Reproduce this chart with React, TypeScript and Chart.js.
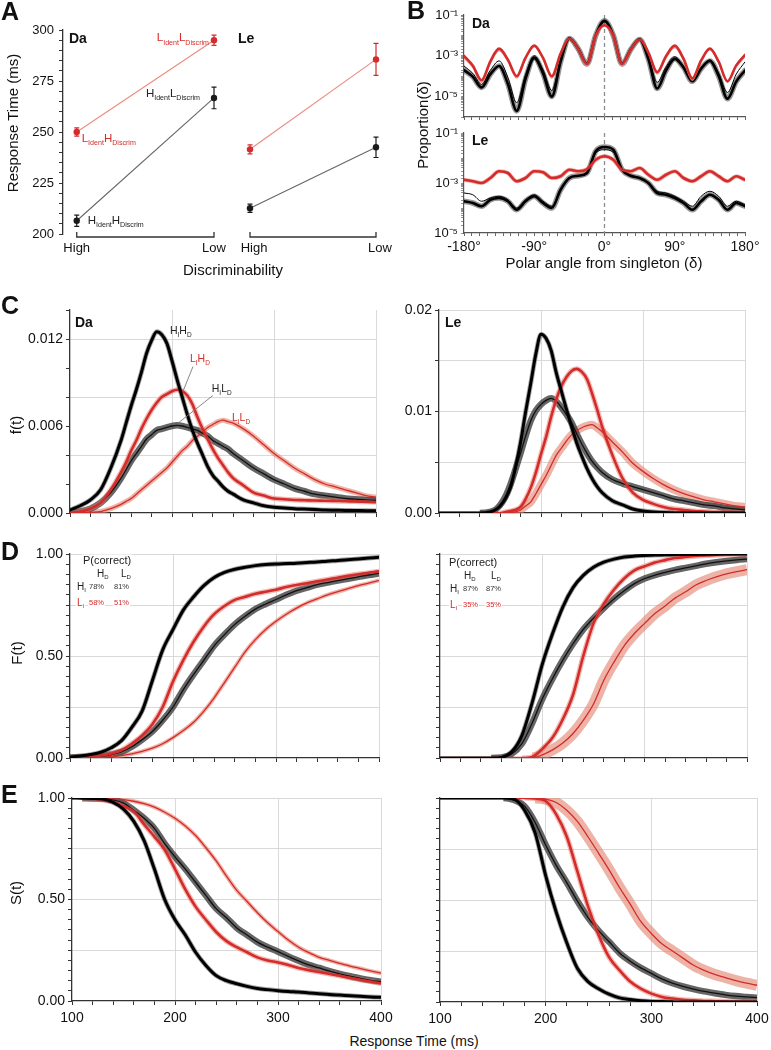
import React, { useEffect, useRef } from "react";
import { Chart, registerables } from "chart.js";

Chart.register(...registerables);

const FONT = '"Liberation Sans", Arial, Helvetica, sans-serif';
Chart.defaults.font.family = FONT;
Chart.defaults.color = "#111";

const RED = "#d42b2b";
const GRID = "#d9d9d9";
const AXIS = "#333";

// ================= DATA =================
// Panel A: mean response time (ms) and error
const A_LEVELS = ["High", "Low"];
const A_DA_LIDENT = [250, 295];
const A_DA_LIDENT_ERR = [2, 2.5];
const A_DA_HIDENT = [206.5, 266.7];
const A_DA_HIDENT_ERR = [2.8, 5.3];
const A_LE_LIDENT = [241.5, 285.6];
const A_LE_LIDENT_ERR = [2.2, 7.8];
const A_LE_HIDENT = [212.6, 242.5];
const A_LE_HIDENT_ERR = [2, 5];

// Panel B: log10 of proportion per polar angle
const B_ANGLES = [-180, -168.75, -157.5, -146.25, -135, -123.75, -112.5, -101.25, -90, -78.75, -67.5, -56.25, -45, -33.75, -22.5, -11.25, 0, 11.25, 22.5, 33.75, 45, 56.25, 67.5, 78.75, 90, 101.25, 112.5, 123.75, 135, 146.25, 157.5, 168.75, 180];
const B_REF_ANGLE = 0;
const B_DA_RED = [-3.0, -3.48, -4.2, -3.27, -2.65, -3.19, -4.0, -3.1, -2.5, -3.1, -4.0, -2.89, -2.15, -2.65, -3.4, -2.0, -1.5, -2.0, -3.4, -2.68, -2.2, -2.84, -3.8, -3.02, -2.5, -3.14, -4.1, -3.23, -2.65, -3.29, -4.25, -3.47, -2.95];
const B_DA_RED_THIN = [-3.1, -3.58, -4.3, -3.37, -2.75, -3.29, -4.1, -3.17, -2.55, -3.17, -4.1, -2.93, -2.15, -2.69, -3.5, -2.1, -1.55, -2.1, -3.5, -2.72, -2.2, -2.88, -3.9, -3.12, -2.6, -3.24, -4.2, -3.3, -2.7, -3.34, -4.3, -3.55, -3.05];
const B_DA_BLACK = [-3.7, -4.02, -4.55, -3.9, -3.5, -4.38, -5.7, -4.14, -3.1, -3.86, -5.0, -3.29, -2.15, -2.65, -3.4, -2.0, -1.28, -2.0, -3.4, -2.68, -2.2, -3.16, -4.6, -3.73, -3.15, -3.57, -4.25, -3.63, -3.25, -3.99, -5.1, -4.26, -3.72];
const B_DA_BLACK_THIN = [-3.5, -3.86, -4.4, -3.71, -3.25, -4.07, -5.3, -3.92, -3.0, -3.68, -4.7, -3.14, -2.1, -2.6, -3.35, -2.05, -1.35, -2.05, -3.35, -2.63, -2.15, -3.01, -4.3, -3.55, -3.05, -3.51, -4.2, -3.6, -3.2, -3.84, -4.8, -3.9, -3.3];
const B_LE_RED = [-2.87, -2.93, -3.0, -2.8, -2.53, -2.6, -2.93, -2.8, -2.53, -2.57, -2.8, -2.73, -2.47, -2.53, -2.45, -2.07, -1.93, -2.07, -2.47, -2.53, -2.4, -2.67, -2.87, -2.67, -2.53, -2.8, -2.93, -2.73, -2.53, -2.73, -2.93, -2.73, -2.87];
const B_LE_BLACK = [-3.73, -3.8, -3.93, -3.67, -3.6, -3.73, -4.07, -3.73, -3.53, -3.8, -4.0, -3.27, -2.8, -2.71, -2.6, -1.73, -1.56, -1.67, -2.47, -2.71, -2.8, -3.0, -3.4, -3.47, -3.6, -3.8, -4.07, -3.73, -3.47, -3.67, -4.07, -3.8, -3.93];
const B_LE_BLACK_THIN = [-3.4, -3.47, -3.73, -3.6, -3.53, -3.67, -4.0, -3.67, -3.47, -3.73, -3.93, -3.24, -2.8, -2.71, -2.6, -1.8, -1.67, -1.77, -2.49, -2.71, -2.8, -3.03, -3.33, -3.4, -3.53, -3.73, -3.93, -3.53, -3.33, -3.53, -3.93, -3.73, -3.87];
const B_Y_LABELS: Record<number, string> = { [-1]: "10\u207B\u00B9", [-3]: "10\u207B\u00B3", [-5]: "10\u207B\u2075" };

// Panel C: density f(t)
const C_TIMES = [100, 110, 120, 130, 140, 150, 155, 160, 165, 170, 175, 180, 185, 190, 195, 200, 205, 210, 215, 220, 225, 230, 235, 240, 245, 250, 255, 260, 270, 280, 290, 300, 310, 320, 330, 340, 350, 360, 370, 380, 390, 400];
const C_DA_HH = [0.0002, 0.0005, 0.0009, 0.0016, 0.0031, 0.005, 0.0062, 0.0074, 0.0085, 0.0097, 0.011, 0.0119, 0.0125, 0.0123, 0.0117, 0.0105, 0.0092, 0.008, 0.0068, 0.0057, 0.0048, 0.004, 0.0032, 0.0026, 0.0022, 0.0018, 0.0015, 0.0013, 0.0009, 0.0007, 0.0005, 0.0004, 0.00035, 0.0003, 0.00027, 0.00024, 0.0002, 0.00019, 0.00018, 0.00017, 0.00016, 0.00015];
const C_DA_LH = [0, 0.0001, 0.0003, 0.0007, 0.0016, 0.0028, 0.0035, 0.0043, 0.005, 0.0058, 0.0065, 0.0071, 0.0076, 0.008, 0.0082, 0.0084, 0.0085, 0.0084, 0.0081, 0.0075, 0.0066, 0.0058, 0.0051, 0.0044, 0.0038, 0.0033, 0.0028, 0.0024, 0.0019, 0.0014, 0.0012, 0.001, 0.00095, 0.0009, 0.00088, 0.00086, 0.00085, 0.00083, 0.00081, 0.0008, 0.00078, 0.00076];
const C_DA_HL = [0, 0.0001, 0.0003, 0.0007, 0.0014, 0.0024, 0.003, 0.0036, 0.0041, 0.0046, 0.0051, 0.0054, 0.0057, 0.0058, 0.0059, 0.006, 0.00605, 0.006, 0.0059, 0.0058, 0.0057, 0.0055, 0.0053, 0.005, 0.0048, 0.0046, 0.0044, 0.0041, 0.0036, 0.0031, 0.0027, 0.0023, 0.002, 0.0017, 0.0015, 0.0013, 0.0012, 0.0011, 0.001, 0.00095, 0.0009, 0.00088];
const C_DA_LL = [0, 0.00002, 0.00005, 0.0001, 0.0003, 0.0006, 0.0008, 0.001, 0.0013, 0.0016, 0.0019, 0.0022, 0.0025, 0.0028, 0.0031, 0.0035, 0.0039, 0.0043, 0.0046, 0.005, 0.0053, 0.0056, 0.0059, 0.0061, 0.0063, 0.0064, 0.0063, 0.0062, 0.0058, 0.0053, 0.0047, 0.0041, 0.0036, 0.0031, 0.0027, 0.0023, 0.002, 0.0018, 0.0016, 0.0014, 0.0012, 0.0011];
const C_LE_HH = [0, 0, 0, 0, 0, 0.0001, 0.0003, 0.0007, 0.0014, 0.0025, 0.0045, 0.007, 0.01, 0.0128, 0.0157, 0.0176, 0.0172, 0.016, 0.0138, 0.012, 0.0102, 0.0085, 0.0069, 0.0056, 0.0044, 0.0034, 0.0026, 0.002, 0.0012, 0.0008, 0.0004, 0.0002, 0.0001, 0.00005, 0.00003, 0.00002, 0.00001, 0, 0, 0, 0, 0];
const C_LE_HL = [0, 0, 0, 0, 0, 0.0001, 0.0003, 0.0008, 0.0016, 0.0028, 0.0043, 0.0059, 0.0076, 0.0091, 0.0101, 0.0107, 0.0111, 0.0113, 0.011, 0.0104, 0.0097, 0.0089, 0.0078, 0.0068, 0.0059, 0.0051, 0.0045, 0.004, 0.0033, 0.0029, 0.0026, 0.0023, 0.002, 0.0017, 0.0014, 0.0012, 0.001, 0.0008, 0.0007, 0.0005, 0.0004, 0.0003];
const C_LE_LH = [0, 0, 0, 0, 0, 0, 0, 0, 0.0001, 0.0002, 0.0003, 0.0006, 0.0014, 0.0025, 0.004, 0.0058, 0.0075, 0.0095, 0.0112, 0.0125, 0.0134, 0.014, 0.0142, 0.0139, 0.0132, 0.0118, 0.0102, 0.0085, 0.0057, 0.0034, 0.002, 0.0013, 0.0009, 0.0006, 0.0004, 0.0003, 0.0002, 0.00015, 0.0001, 0.0001, 0.00008, 0.00006];
const C_LE_LL = [0, 0, 0, 0, 0, 0, 0, 0, 0, 0, 0.0001, 0.0003, 0.0007, 0.0011, 0.0019, 0.0028, 0.0037, 0.0047, 0.0057, 0.0064, 0.0071, 0.0077, 0.0081, 0.0084, 0.0086, 0.0087, 0.0084, 0.008, 0.007, 0.006, 0.0049, 0.0041, 0.0034, 0.0028, 0.0023, 0.0019, 0.0016, 0.0013, 0.0011, 0.0009, 0.0007, 0.0006];

// Panels D and E: F(t) and S(t)
const DE_TIMES = [100, 110, 120, 130, 140, 150, 160, 170, 180, 190, 200, 210, 220, 230, 240, 250, 260, 270, 280, 290, 300, 310, 320, 330, 340, 350, 360, 370, 380, 390, 400];
const D_DA_HH = [0.005, 0.01, 0.017, 0.028, 0.05, 0.085, 0.15, 0.23, 0.38, 0.53, 0.63, 0.725, 0.79, 0.845, 0.885, 0.91, 0.925, 0.935, 0.943, 0.948, 0.951, 0.953, 0.955, 0.958, 0.961, 0.965, 0.968, 0.972, 0.976, 0.98, 0.984];
const D_DA_LH = [0.004, 0.006, 0.008, 0.012, 0.022, 0.038, 0.07, 0.11, 0.165, 0.25, 0.375, 0.48, 0.57, 0.645, 0.705, 0.745, 0.775, 0.79, 0.805, 0.815, 0.825, 0.838, 0.848, 0.857, 0.866, 0.875, 0.884, 0.893, 0.901, 0.908, 0.915];
const D_DA_HL = [0.003, 0.004, 0.006, 0.009, 0.017, 0.03, 0.055, 0.09, 0.13, 0.185, 0.25, 0.335, 0.41, 0.48, 0.55, 0.605, 0.655, 0.695, 0.73, 0.755, 0.777, 0.8, 0.82, 0.835, 0.85, 0.86, 0.87, 0.879, 0.888, 0.897, 0.905];
const D_DA_LL = [0.002, 0.002, 0.003, 0.004, 0.007, 0.012, 0.02, 0.032, 0.048, 0.07, 0.1, 0.135, 0.175, 0.23, 0.295, 0.37, 0.445, 0.52, 0.58, 0.63, 0.67, 0.705, 0.735, 0.76, 0.78, 0.8, 0.815, 0.83, 0.845, 0.857, 0.87];
const D_LE_HH = [0, 0, 0, 0, 0, 0, 0.003, 0.03, 0.11, 0.27, 0.46, 0.61, 0.74, 0.835, 0.895, 0.935, 0.96, 0.975, 0.985, 0.99, 0.993, 0.995, 0.996, 0.997, 0.998, 0.998, 0.999, 0.999, 1, 1, 1];
const D_LE_HL = [0, 0, 0, 0, 0, 0, 0.002, 0.02, 0.07, 0.17, 0.29, 0.39, 0.48, 0.56, 0.63, 0.685, 0.735, 0.78, 0.82, 0.855, 0.88, 0.897, 0.91, 0.922, 0.932, 0.942, 0.952, 0.96, 0.966, 0.971, 0.975];
const D_LE_LH = [0, 0, 0, 0, 0, 0, 0, 0, 0, 0.005, 0.045, 0.1, 0.19, 0.31, 0.5, 0.66, 0.755, 0.825, 0.88, 0.92, 0.94, 0.958, 0.97, 0.98, 0.986, 0.99, 0.993, 0.995, 0.997, 0.998, 0.999];
const D_LE_LL = [0, 0, 0, 0, 0, 0, 0, 0, 0, 0, 0.015, 0.04, 0.073, 0.12, 0.185, 0.265, 0.38, 0.47, 0.55, 0.61, 0.66, 0.708, 0.745, 0.785, 0.815, 0.848, 0.87, 0.888, 0.903, 0.914, 0.923];
const E_DA_HH = [1, 0.999, 0.998, 0.995, 0.978, 0.945, 0.885, 0.79, 0.65, 0.5, 0.4, 0.325, 0.24, 0.175, 0.125, 0.1, 0.085, 0.072, 0.062, 0.056, 0.051, 0.047, 0.044, 0.04, 0.036, 0.032, 0.029, 0.026, 0.023, 0.02, 0.018];
const E_DA_HL = [1, 0.999, 0.998, 0.996, 0.99, 0.975, 0.94, 0.9, 0.85, 0.775, 0.71, 0.65, 0.585, 0.52, 0.455, 0.41, 0.36, 0.325, 0.29, 0.265, 0.243, 0.22, 0.198, 0.178, 0.163, 0.147, 0.134, 0.122, 0.111, 0.102, 0.095];
const E_DA_LH = [1, 0.999, 0.996, 0.99, 0.98, 0.96, 0.934, 0.87, 0.81, 0.745, 0.65, 0.55, 0.465, 0.4, 0.34, 0.295, 0.265, 0.24, 0.215, 0.2, 0.19, 0.177, 0.163, 0.152, 0.143, 0.133, 0.124, 0.115, 0.105, 0.096, 0.087];
const E_DA_LL = [1, 0.999, 0.998, 0.997, 0.996, 0.992, 0.984, 0.972, 0.955, 0.93, 0.9, 0.862, 0.815, 0.755, 0.69, 0.615, 0.545, 0.49, 0.435, 0.385, 0.342, 0.3, 0.265, 0.238, 0.215, 0.2, 0.185, 0.172, 0.16, 0.148, 0.137];
const E_LE_HH = [1, 1, 1, 1, 1, 1, 1, 0.995, 0.94, 0.83, 0.62, 0.44, 0.29, 0.165, 0.1, 0.065, 0.038, 0.02, 0.012, 0.006, 0.003, 0.002, 0.001, 0, 0, 0, 0, 0, 0, 0, 0];
const E_LE_HL = [1, 1, 1, 1, 1, 1, 1, 0.99, 0.96, 0.88, 0.77, 0.67, 0.585, 0.495, 0.415, 0.35, 0.295, 0.24, 0.2, 0.167, 0.14, 0.113, 0.092, 0.076, 0.063, 0.052, 0.043, 0.035, 0.029, 0.025, 0.021];
const E_LE_LH = [1, 1, 1, 1, 1, 1, 1, 1, 1, 0.998, 0.985, 0.92, 0.81, 0.64, 0.47, 0.33, 0.22, 0.155, 0.1, 0.065, 0.041, 0.025, 0.017, 0.011, 0.008, 0.005, 0.004, 0.003, 0.002, 0.002, 0.001];
const E_LE_LL = [1, 1, 1, 1, 1, 1, 1, 1, 1, 1, 0.995, 0.978, 0.94, 0.885, 0.81, 0.73, 0.648, 0.56, 0.48, 0.395, 0.336, 0.285, 0.25, 0.215, 0.18, 0.155, 0.135, 0.12, 0.105, 0.092, 0.082];

const P_CORRECT_DA_H = ["78%", "81%"];
const P_CORRECT_DA_L = ["58%", "51%"];
const P_CORRECT_LE_H = ["87%", "87%"];
const P_CORRECT_LE_L = ["35%", "35%"];

// ================= HELPERS =================
type Box = { l: number; t: number; r: number; b: number };
type Seg = [string, boolean];

const zeroPad = (s: any) => {
  s.paddingLeft = 0;
  s.paddingRight = 0;
  s.paddingTop = 0;
  s.paddingBottom = 0;
};

function frameOptions(canvas: Box, area: Box, yShown: boolean) {
  return {
    animation: false,
    responsive: true,
    maintainAspectRatio: false,
    events: [],
    layout: {
      padding: {
        top: area.t - canvas.t,
        right: canvas.r - area.r,
        left: yShown ? 0 : area.l - canvas.l,
        bottom: 0,
      },
    },
  };
}

const NO_PLUGINS = { legend: { display: false }, tooltip: { enabled: false }, title: { display: false } };

function drawRich(ctx: any, x: number, y: number, segs: Seg[], color: string, size: number, align: string) {
  const main = `${size}px ${FONT}`;
  const sub = `${(size * 0.62).toFixed(1)}px ${FONT}`;
  let w = 0;
  for (const [t, s] of segs) {
    ctx.font = s ? sub : main;
    w += ctx.measureText(t).width;
  }
  let cx = align === "right" ? x - w : x;
  ctx.fillStyle = color;
  ctx.textAlign = "left";
  ctx.textBaseline = "alphabetic";
  for (const [t, s] of segs) {
    ctx.font = s ? sub : main;
    ctx.fillText(t, cx, s ? y + size * 0.3 : y);
    cx += ctx.measureText(t).width;
  }
}

function makeExtras(cfg: any) {
  return {
    id: "extras",
    beforeDatasetsDraw(chart: any) {
      if (typeof cfg.vline === "number") {
        const { ctx, chartArea } = chart;
        const x = chart.scales.x.getPixelForValue(cfg.vline);
        ctx.save();
        ctx.strokeStyle = "#8c8c8c";
        ctx.lineWidth = 1.3;
        ctx.setLineDash([4, 3]);
        ctx.beginPath();
        ctx.moveTo(x, chartArea.top);
        ctx.lineTo(x, chartArea.bottom);
        ctx.stroke();
        ctx.restore();
      }
    },
    afterDatasetsDraw(chart: any) {
      const { ctx, chartArea } = chart;
      const xs = chart.scales.x;
      const ys = chart.scales.y;
      ctx.save();
      chart.data.datasets.forEach((ds: any) => {
        if (!ds.errors) return;
        ds.data.forEach((p: any, i: number) => {
          const e = ds.errors[i];
          const x = xs.getPixelForValue(p.x);
          const y1 = ys.getPixelForValue(p.y - e);
          const y2 = ys.getPixelForValue(p.y + e);
          ctx.strokeStyle = ds.errColor;
          ctx.lineWidth = 1.2;
          ctx.beginPath();
          ctx.moveTo(x, y1);
          ctx.lineTo(x, y2);
          ctx.moveTo(x - 2.5, y1);
          ctx.lineTo(x + 2.5, y1);
          ctx.moveTo(x - 2.5, y2);
          ctx.lineTo(x + 2.5, y2);
          ctx.stroke();
        });
      });
      if (cfg.bracket) {
        const x0 = xs.getPixelForValue(cfg.bracket[0]);
        const x1 = xs.getPixelForValue(cfg.bracket[1]);
        const y = chartArea.bottom + 3;
        ctx.strokeStyle = AXIS;
        ctx.lineWidth = 1.3;
        ctx.beginPath();
        ctx.moveTo(x0, y - 5);
        ctx.lineTo(x0, y);
        ctx.lineTo(x1, y);
        ctx.lineTo(x1, y - 5);
        ctx.stroke();
      }
      (cfg.leaders || []).forEach((l: any) => {
        ctx.strokeStyle = "#7a7a7a";
        ctx.lineWidth = 0.9;
        ctx.beginPath();
        ctx.moveTo(xs.getPixelForValue(l.from[0]), ys.getPixelForValue(l.from[1]));
        ctx.lineTo(xs.getPixelForValue(l.to[0]), ys.getPixelForValue(l.to[1]));
        ctx.stroke();
      });
      (cfg.notes || []).forEach((n: any) => {
        drawRich(
          ctx,
          xs.getPixelForValue(n.x) + (n.dx || 0),
          ys.getPixelForValue(n.y) + (n.dy || 0),
          n.segs,
          n.red ? RED : "#222",
          n.size || 11,
          n.align || "left"
        );
      });
      ctx.restore();
    },
  };
}

const LINE = {
  pointRadius: 0,
  fill: false,
  tension: 0,
  cubicInterpolationMode: "monotone",
  borderCapStyle: "round",
  borderJoinStyle: "round",
};

// ================= PANEL A =================
function aConfig(canvas: Box, area: Box, showY: boolean, red: number[], redErr: number[], black: number[], blackErr: number[], notes: any[], xmin: number, labelOffset: number) {
  const pts = (arr: number[]) => A_LEVELS.map((_, i) => ({ x: i, y: arr[i] }));
  return {
    type: "line",
    data: {
      datasets: [
        { data: pts(red), errors: redErr, errColor: RED, borderColor: "#ee8c82", borderWidth: 1.2, pointRadius: 3.2, pointBackgroundColor: RED, pointBorderWidth: 0, tension: 0, clip: false },
        { data: pts(black), errors: blackErr, errColor: "#1a1a1a", borderColor: "#666", borderWidth: 1.1, pointRadius: 3.2, pointBackgroundColor: "#1a1a1a", pointBorderWidth: 0, tension: 0, clip: false },
      ],
    },
    options: {
      ...frameOptions(canvas, area, showY),
      plugins: NO_PLUGINS,
      scales: {
        x: {
          type: "linear",
          min: xmin,
          max: A_LEVELS.length - 1,
          afterBuildTicks: (s: any) => {
            s.ticks = A_LEVELS.map((_, i) => ({ value: i }));
          },
          afterFit: (s: any) => {
            s.height = canvas.b - area.b;
            zeroPad(s);
          },
          ticks: { autoSkip: false, maxRotation: 0, minRotation: 0, padding: 7, labelOffset, font: { size: 13 }, color: "#111", callback: (v: any) => A_LEVELS[Math.round(v)] ?? "" },
          grid: { display: false, drawTicks: false },
          border: { display: false },
        },
        y: {
          display: showY,
          type: "linear",
          min: 200,
          max: 300,
          afterFit: (s: any) => {
            s.width = area.l - canvas.l;
            zeroPad(s);
          },
          ticks: { stepSize: 5, autoSkip: false, padding: 5, font: { size: 13 }, color: "#111", callback: (v: any) => (Math.round(v) % 25 === 0 ? String(Math.round(v)) : "") },
          grid: { drawOnChartArea: false, tickLength: 4, tickColor: AXIS, tickWidth: 1 },
          border: { display: true, color: AXIS, width: 1.3 },
        },
      },
    },
    plugins: [makeExtras({ bracket: [0, A_LEVELS.length - 1], notes })],
  };
}

const SEG_LL: Seg[] = [["L", false], ["Ident", true], ["L", false], ["Discrim", true]];
const SEG_LH: Seg[] = [["L", false], ["Ident", true], ["H", false], ["Discrim", true]];
const SEG_HL: Seg[] = [["H", false], ["Ident", true], ["L", false], ["Discrim", true]];
const SEG_HH: Seg[] = [["H", false], ["Ident", true], ["H", false], ["Discrim", true]];

const A_DA_NOTES = [
  { x: 1, y: A_DA_LIDENT[1], segs: SEG_LL, red: true, align: "right", dx: -5, dy: 1, size: 11.5 },
  { x: 0, y: A_DA_LIDENT[0], segs: SEG_LH, red: true, align: "left", dx: 5, dy: 10, size: 11.5 },
  { x: 1, y: A_DA_HIDENT[1], segs: SEG_HL, red: false, align: "right", dx: -14, dy: -1, size: 11.5 },
  { x: 0, y: A_DA_HIDENT[0], segs: SEG_HH, red: false, align: "left", dx: 11, dy: 3, size: 11.5 },
];

// ================= PANEL B =================
function bConfig(canvas: Box, area: Box, yMin: number, series: any[], showXLabels: boolean) {
  const datasets: any[] = [];
  series.forEach((s) => {
    const mk = () => B_ANGLES.map((a, i) => ({ x: a, y: Math.pow(10, s.exp[i]) }));
    if (s.band) datasets.push({ ...LINE, data: mk(), borderColor: s.band, borderWidth: s.bw, order: 10 + s.z });
    datasets.push({ ...LINE, data: mk(), borderColor: s.color, borderWidth: s.w, order: s.z });
  });
  return {
    type: "line",
    data: { datasets },
    options: {
      ...frameOptions(canvas, area, true),
      plugins: NO_PLUGINS,
      scales: {
        x: {
          type: "linear",
          min: -180,
          max: 180,
          afterFit: (s: any) => {
            s.height = canvas.b - area.b;
            zeroPad(s);
          },
          ticks: { stepSize: 10, autoSkip: false, maxRotation: 0, minRotation: 0, padding: 3, font: { size: 14 }, color: "#111", callback: (v: any) => (showXLabels && Math.round(v) % 90 === 0 ? `${Math.round(v)}\u00B0` : "") },
          grid: { drawOnChartArea: false, tickLength: 3, tickColor: "#666", tickWidth: 1 },
          border: { display: true, color: "#555", width: 1.2 },
        },
        y: {
          type: "logarithmic",
          min: yMin,
          max: 0.1,
          afterFit: (s: any) => {
            s.width = area.l - canvas.l;
            zeroPad(s);
          },
          ticks: {
            autoSkip: false,
            padding: 3,
            font: { size: 13 },
            color: "#111",
            callback: (v: any) => {
              const e = Math.log10(v);
              const r = Math.round(e);
              if (Math.abs(e - r) > 1e-6) return "";
              return B_Y_LABELS[r] ?? "";
            },
          },
          grid: { drawOnChartArea: false, tickLength: 3, tickColor: "#777", tickWidth: 0.8 },
          border: { display: true, color: "#555", width: 1.2 },
        },
      },
    },
    plugins: [makeExtras({ vline: B_REF_ANGLE })],
  };
}

// ================= PANELS C/D/E =================
const CURVE_STYLE: Record<string, any> = {
  HH: { color: "#000", w: 3, band: "rgba(85,85,85,0.55)", bw: 4.8, z: 0 },
  LH: { color: RED, w: 2.6, band: "rgba(230,118,106,0.5)", bw: 5.2, z: 1 },
  HL: { color: "#111", w: 1.3, band: "rgba(62,62,62,0.8)", bw: 6.5, z: 2 },
  LL: { color: RED, w: 1.3, band: "rgba(226,128,108,0.6)", bw: 5.5, z: 3 },
};

const CLEAR = "rgba(0,0,0,0)";

function curveDatasets(times: number[], curves: any[], flatLo: number, flatHi: number) {
  const out: any[] = [];
  // the confidence band has no width where the curve sits flat on a bound
  const bandSegment = {
    borderColor: (c: any) => {
      const a = c.p0.parsed.y;
      const b = c.p1.parsed.y;
      return (a <= flatLo && b <= flatLo) || (a >= flatHi && b >= flatHi) ? CLEAR : undefined;
    },
  };
  curves.forEach((c) => {
    const s = CURVE_STYLE[c.kind];
    const mk = () => times.map((t, i) => ({ x: t, y: c.data[i] }));
    out.push({ ...LINE, data: mk(), borderColor: s.band, borderWidth: c.bw ?? s.bw, order: 10 + s.z, segment: bandSegment, borderCapStyle: "butt" });
    out.push({ ...LINE, data: mk(), borderColor: s.color, borderWidth: s.w, order: s.z });
  });
  return out;
}

function cdeConfig(canvas: Box, area: Box, times: number[], curves: any[], o: any) {
  return {
    type: "line",
    data: { datasets: curveDatasets(times, curves, o.flatLo, o.flatHi) },
    options: {
      ...frameOptions(canvas, area, true),
      plugins: NO_PLUGINS,
      scales: {
        x: {
          type: "linear",
          min: 100,
          max: 400,
          afterFit: (s: any) => {
            s.height = canvas.b - area.b;
            zeroPad(s);
          },
          ticks: { stepSize: 20, autoSkip: false, maxRotation: 0, minRotation: 0, padding: 5, font: { size: 14 }, color: "#111", callback: (v: any) => (o.showX && Math.round(v) % 100 === 0 ? String(Math.round(v)) : "") },
          grid: {
            color: (c: any) => {
              const v = c.tick?.value;
              return v !== undefined && v > 100 && Math.round(v) % 100 === 0 ? GRID : CLEAR;
            },
            lineWidth: 1,
            tickColor: AXIS,
            tickLength: 4,
            tickWidth: 1,
          },
          border: { display: true, color: AXIS, width: 1.3 },
        },
        y: {
          type: "linear",
          min: 0,
          max: o.yMax,
          afterFit: (s: any) => {
            s.width = area.l - canvas.l;
            zeroPad(s);
          },
          ticks: {
            stepSize: o.yStep,
            autoSkip: false,
            padding: 3,
            font: { size: 14 },
            color: "#111",
            callback: (v: any) => {
              const i = Math.round(v / o.yStep);
              return o.showY && i % o.labelN === 0 ? (i * o.yStep).toFixed(o.digits) : "";
            },
          },
          grid: {
            color: (c: any) => {
              const v = c.tick?.value;
              if (v === undefined) return CLEAR;
              const i = Math.round(v / o.yStep);
              return i > 0 && i % o.gridN === 0 ? GRID : CLEAR;
            },
            lineWidth: 1,
            tickColor: AXIS,
            tickLength: 4,
            tickWidth: 1,
          },
          border: { display: true, color: AXIS, width: 1.3 },
        },
      },
    },
    plugins: [makeExtras({ notes: o.notes || [], leaders: o.leaders || [] })],
  };
}

const SEG_C_HH: Seg[] = [["H", false], ["I", true], ["H", false], ["D", true]];
const SEG_C_LH: Seg[] = [["L", false], ["I", true], ["H", false], ["D", true]];
const SEG_C_HL: Seg[] = [["H", false], ["I", true], ["L", false], ["D", true]];
const SEG_C_LL: Seg[] = [["L", false], ["I", true], ["L", false], ["D", true]];

const C_DA_NOTES = [
  { x: 198, y: 0.01234, segs: SEG_C_HH, red: false, size: 10.5 },
  { x: 217.6, y: 0.01041, segs: SEG_C_LH, red: true, size: 10.5 },
  { x: 239, y: 0.00834, segs: SEG_C_HL, red: false, size: 10.5 },
  { x: 258.8, y: 0.00634, segs: SEG_C_LL, red: true, size: 10.5 },
];
const C_DA_LEADERS = [
  { from: [220.6, 0.0101], to: [210.8, 0.0084] },
  { from: [240, 0.0081], to: [206, 0.0062] },
];

const curvesOf = (hh: number[], lh: number[], hl: number[], ll: number[], llBand: number, hlBand: number) => [
  { kind: "LL", data: ll, bw: llBand },
  { kind: "HL", data: hl, bw: hlBand },
  { kind: "LH", data: lh },
  { kind: "HH", data: hh },
];

const PDF_FLAT = { flatLo: 0.00003, flatHi: 1 };
const CDF_FLAT = { flatLo: 0.0015, flatHi: 0.9985 };

const PANELS: { id: string; canvas: Box; make: () => any }[] = (() => {
  const list: any[] = [];
  const add = (id: string, canvas: Box, make: (c: Box) => any) => list.push({ id, canvas, make: () => make(canvas) });

  add("aDa", { l: 0, t: 22, r: 232, b: 262 }, (c) =>
    aConfig(c, { l: 63, t: 30, r: 214, b: 234 }, true, A_DA_LIDENT, A_DA_LIDENT_ERR, A_DA_HIDENT, A_DA_HIDENT_ERR, A_DA_NOTES, -0.1, 0)
  );
  add("aLe", { l: 222, t: 22, r: 400, b: 262 }, (c) =>
    aConfig(c, { l: 236, t: 30, r: 376, b: 234 }, false, A_LE_LIDENT, A_LE_LIDENT_ERR, A_LE_HIDENT, A_LE_HIDENT_ERR, [], 0, 4)
  );
  add("bDa", { l: 405, t: 3, r: 765, b: 123 }, (c) =>
    bConfig(c, { l: 464, t: 15, r: 745, b: 117 }, 1e-6, [
      { exp: B_DA_BLACK, color: "#000", w: 2.6, band: "rgba(80,80,80,0.6)", bw: 5.5, z: 2 },
      { exp: B_DA_BLACK_THIN, color: "#000", w: 1, z: 3 },
      { exp: B_DA_RED, color: RED, w: 2.6, z: 0 },
      { exp: B_DA_RED_THIN, color: "#ec8a82", w: 1.2, z: 1 },
    ], false)
  );
  add("bLe", { l: 405, t: 123, r: 765, b: 258 }, (c) =>
    bConfig(c, { l: 464, t: 133, r: 745, b: 233 }, 1e-5, [
      { exp: B_LE_BLACK, color: "#000", w: 2.6, band: "rgba(80,80,80,0.6)", bw: 5.5, z: 2 },
      { exp: B_LE_BLACK_THIN, color: "#000", w: 1, z: 3 },
      { exp: B_LE_RED, color: RED, w: 2.6, band: "rgba(232,125,112,0.6)", bw: 4.2, z: 0 },
    ], true)
  );
  add("cDa", { l: 0, t: 300, r: 388, b: 522 }, (c) =>
    cdeConfig(c, { l: 70, t: 310, r: 376, b: 513 }, C_TIMES, curvesOf(C_DA_HH, C_DA_LH, C_DA_HL, C_DA_LL, 5, 6.5), {
      ...PDF_FLAT, yMax: 0.014, yStep: 0.002, labelN: 3, gridN: 2, digits: 3, showY: true, showX: false, notes: C_DA_NOTES, leaders: C_DA_LEADERS,
    })
  );
  add("cLe", { l: 392, t: 300, r: 765, b: 522 }, (c) =>
    cdeConfig(c, { l: 439, t: 310, r: 745, b: 513 }, C_TIMES, curvesOf(C_LE_HH, C_LE_LH, C_LE_HL, C_LE_LL, 8, 6.5), {
      ...PDF_FLAT, yMax: 0.02, yStep: 0.005, labelN: 2, gridN: 1, digits: 2, showY: true, showX: false,
    })
  );
  add("dDa", { l: 0, t: 545, r: 390, b: 766 }, (c) =>
    cdeConfig(c, { l: 70, t: 554, r: 379, b: 758 }, DE_TIMES, curvesOf(D_DA_HH, D_DA_LH, D_DA_HL, D_DA_LL, 4, 6.5), {
      ...CDF_FLAT, yMax: 1, yStep: 0.05, labelN: 10, gridN: 5, digits: 2, showY: true, showX: false,
    })
  );
  add("dLe", { l: 392, t: 545, r: 765, b: 766 }, (c) =>
    cdeConfig(c, { l: 440, t: 554, r: 747, b: 758 }, DE_TIMES, curvesOf(D_LE_HH, D_LE_LH, D_LE_HL, D_LE_LL, 11, 6.5), {
      ...CDF_FLAT, yMax: 1, yStep: 0.05, labelN: 10, gridN: 5, digits: 2, showY: false, showX: false,
    })
  );
  add("eDa", { l: 0, t: 790, r: 395, b: 1030 }, (c) =>
    cdeConfig(c, { l: 72, t: 798, r: 381, b: 1001 }, DE_TIMES, curvesOf(E_DA_HH, E_DA_LH, E_DA_HL, E_DA_LL, 4, 6.5), {
      ...CDF_FLAT, yMax: 1, yStep: 0.05, labelN: 10, gridN: 5, digits: 2, showY: true, showX: true,
    })
  );
  add("eLe", { l: 396, t: 790, r: 771, b: 1030 }, (c) =>
    cdeConfig(c, { l: 440, t: 798, r: 757, b: 1002 }, DE_TIMES, curvesOf(E_LE_HH, E_LE_LH, E_LE_HL, E_LE_LL, 11, 6.5), {
      ...CDF_FLAT, yMax: 1, yStep: 0.05, labelN: 10, gridN: 5, digits: 2, showY: false, showX: true,
    })
  );
  return list;
})();

// ================= REACT =================
function ChartPanel({ box, make }: { box: Box; make: () => any }) {
  const ref = useRef<HTMLCanvasElement | null>(null);
  useEffect(() => {
    if (!ref.current) return;
    const chart = new Chart(ref.current, make());
    return () => chart.destroy();
  }, []);
  return (
    <div style={{ position: "absolute", left: box.l, top: box.t, width: box.r - box.l, height: box.b - box.t }}>
      <canvas ref={ref} />
    </div>
  );
}

function T({ x, y, size = 15, bold = false, color = "#111", rot = false, left = false, bg, children }: any) {
  const style: any = {
    position: "absolute",
    left: x,
    top: y,
    fontSize: size,
    fontWeight: bold ? 700 : 400,
    color,
    whiteSpace: "nowrap",
    lineHeight: 1,
    fontFamily: FONT,
    transform: left ? "translateY(-50%)" : `translate(-50%,-50%)${rot ? " rotate(-90deg)" : ""}`,
  };
  if (bg) {
    style.background = bg;
    style.padding = "0 1px";
  }
  return <div style={style}>{children}</div>;
}

const Sub = ({ children }: any) => <span style={{ fontSize: "0.6em", position: "relative", top: "0.3em" }}>{children}</span>;

function PLegend({ p, hd, ld, hi, v1, v2, h, l }: any) {
  return (
    <>
      <T x={p[0]} y={p[1]} size={11} left bg="#fff" color="#222">P(correct)</T>
      <T x={hd} y={p[1] + 14} size={10} left bg="#fff" color="#222">H<Sub>D</Sub></T>
      <T x={ld} y={p[1] + 14} size={10} left bg="#fff" color="#222">L<Sub>D</Sub></T>
      <T x={hi} y={p[1] + 27} size={10} left bg="#fff" color="#222">H<Sub>I</Sub></T>
      <T x={v1} y={p[1] + 27} size={7.5} left bg="#fff" color="#333">{h[0]}</T>
      <T x={v2} y={p[1] + 27} size={7.5} left bg="#fff" color="#333">{h[1]}</T>
      <T x={hi} y={p[1] + 43} size={10} left bg="#fff" color={RED}>L<Sub>I</Sub></T>
      <T x={v1} y={p[1] + 43} size={7.5} left bg="#fff" color={RED}>{l[0]}</T>
      <T x={v2} y={p[1] + 43} size={7.5} left bg="#fff" color={RED}>{l[1]}</T>
    </>
  );
}

export default function App() {
  return (
    <div style={{ position: "absolute", left: 0, top: 0, width: 771, height: 1050, background: "#fff", overflow: "hidden", fontFamily: FONT }}>
      {PANELS.map((p) => (
        <ChartPanel key={p.id} box={p.canvas} make={p.make} />
      ))}

      {/* panel letters */}
      <T x={1} y={11} size={25} bold left>A</T>
      <T x={407} y={10} size={25} bold left>B</T>
      <T x={1} y={305} size={25} bold left>C</T>
      <T x={1} y={551} size={25} bold left>D</T>
      <T x={1} y={794} size={25} bold left>E</T>

      {/* subject labels */}
      <T x={69} y={38} size={14} bold left>Da</T>
      <T x={238} y={38} size={14} bold left>Le</T>
      <T x={472} y={23} size={14} bold left>Da</T>
      <T x={472} y={140} size={14} bold left>Le</T>
      <T x={75} y={322} size={14} bold left>Da</T>
      <T x={445} y={322} size={14} bold left>Le</T>

      {/* axis titles */}
      <T x={12} y={123} size={15} rot>Response Time (ms)</T>
      <T x={233} y={269} size={15}>Discriminability</T>
      <T x={422} y={125} size={15} rot>Proportion(δ)</T>
      <T x={604} y={262} size={15}>Polar angle from singleton (δ)</T>
      <T x={15} y={425} size={15} rot>f(t)</T>
      <T x={16} y={653} size={15} rot>F(t)</T>
      <T x={15} y={893} size={15} rot>S(t)</T>
      <T x={414} y={1041} size={14}>Response Time (ms)</T>

      {/* P(correct) tables */}
      <PLegend p={[82, 560]} hd={96} ld={120} hi={76} v1={88} v2={113} h={P_CORRECT_DA_H} l={P_CORRECT_DA_L} />
      <PLegend p={[448, 562]} hd={463} ld={490} hi={449} v1={462} v2={485} h={P_CORRECT_LE_H} l={P_CORRECT_LE_L} />
    </div>
  );
}
